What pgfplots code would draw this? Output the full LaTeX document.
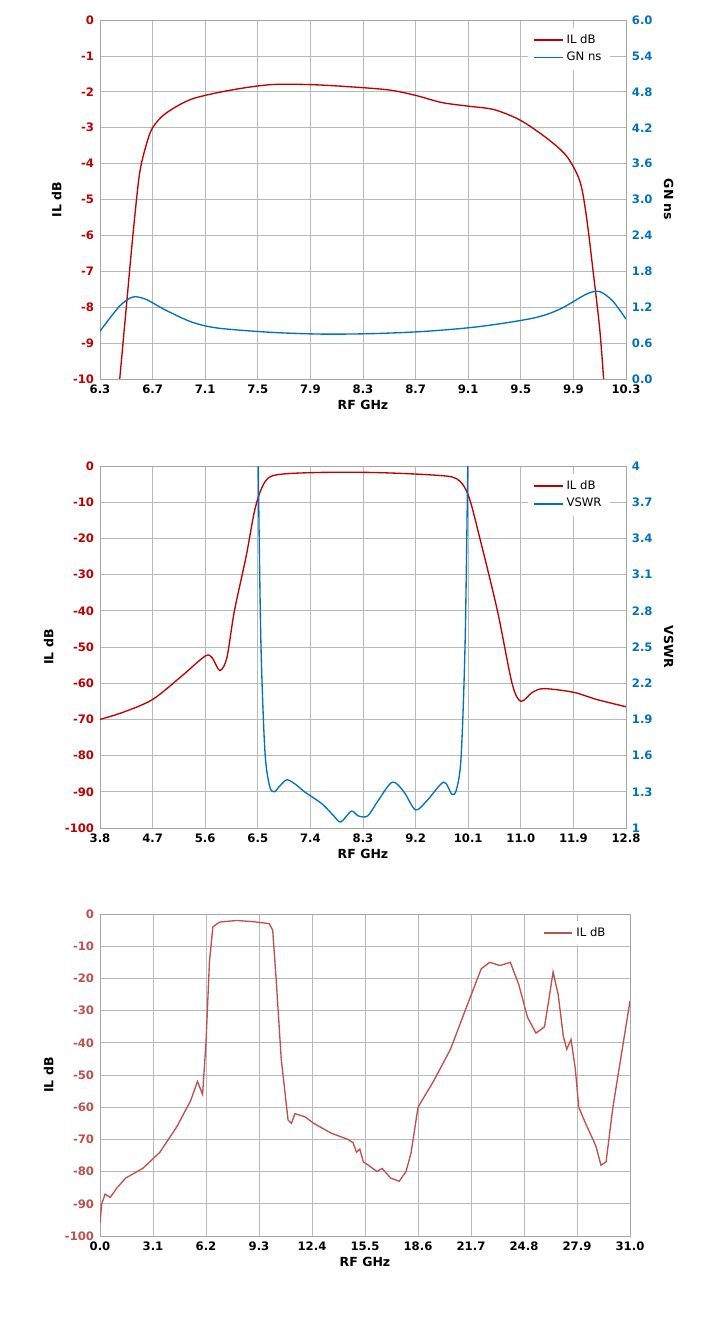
\documentclass[border=0pt]{standalone}
\usepackage{pgfplots}
\pgfplotsset{compat=1.18}
\usepackage{fontspec}
\setmainfont{DejaVu Sans}
\definecolor{ilred}{HTML}{C00000}
\definecolor{gnblue}{HTML}{0070C0}
\definecolor{il3}{HTML}{C0504D}
\begin{document}
\begin{tikzpicture}
\path (0pt,0pt) rectangle (430.8pt,-799.2pt);
\pgfplotsset{
 base/.style={scale only axis, width=315.6pt, height=215.4pt, anchor=north west,
   font=\fontsize{7}{8}\selectfont, /pgf/number format/assume math mode=true,
   grid=major, grid style={gray!55}, tick style={draw=none},
   axis line style={gray!70},
   xlabel style={font=\fontsize{7.5}{9}\selectfont\bfseries, yshift=3pt},
   ylabel style={font=\fontsize{7.5}{9}\selectfont\bfseries},
   xticklabel style={font=\fontsize{7}{8}\selectfont\bfseries},
   legend style={draw=none, fill=white, font=\fontsize{7}{8}\selectfont, at={(0.97,0.98)}, anchor=north east, cells={anchor=west}},
   legend cell align=left},
 right/.style={scale only axis, width=315.6pt, height=215.4pt, anchor=north west,
   font=\fontsize{7}{8}\selectfont\bfseries, /pgf/number format/assume math mode=true,
   axis y line*=right, axis x line=none, tick style={draw=none},
   yticklabel style={text=gnblue,font=\fontsize{7}{8}\selectfont\bfseries},
   ylabel style={font=\fontsize{7.5}{9}\selectfont\bfseries, rotate=180},
   axis line style={gray!70},
   legend style={draw=none, fill=white, font=\fontsize{7}{8}\selectfont, at={(0.97,0.98)}, anchor=north east, cells={anchor=west}},
   legend cell align=left}
}
% ---------- Chart 1
\begin{axis}[base, at={(60pt,-12pt)}, xmin=6.3, xmax=10.3, ymin=-10, ymax=0,
  xtick={6.3,6.7,...,10.4}, ytick={-10,-9,...,0}, xticklabel style={/pgf/number format/.cd,fixed,fixed zerofill,precision=1},
  yticklabel style={text=ilred,font=\fontsize{7}{8}\selectfont\bfseries},
  xlabel={RF GHz}, ylabel={IL dB}]
\addplot[ilred, thick, smooth] coordinates {(6.45,-10)(6.5,-8)(6.55,-6)(6.6,-4.3)(6.65,-3.5)(6.7,-3)(6.8,-2.6)(7.0,-2.2)(7.3,-1.95)(7.6,-1.8)(7.9,-1.8)(8.2,-1.86)(8.5,-1.95)(8.7,-2.1)(8.9,-2.3)(9.1,-2.4)(9.3,-2.5)(9.5,-2.8)(9.7,-3.3)(9.85,-3.8)(9.95,-4.5)(10.0,-5.5)(10.05,-7)(10.1,-8.6)(10.13,-10)};
\end{axis}
\begin{axis}[right, at={(60pt,-12pt)}, xmin=6.3, xmax=10.3, ymin=0, ymax=6, ytick={0,0.6,...,6.01},
  yticklabel style={/pgf/number format/.cd,fixed,fixed zerofill,precision=1}, ylabel={GN ns}]
\addlegendimage{ilred, thick}\addlegendentry{IL dB}
\addplot[gnblue, thick, smooth] coordinates {(6.3,0.8)(6.45,1.22)(6.55,1.37)(6.65,1.33)(6.8,1.15)(7.0,0.95)(7.2,0.85)(7.6,0.78)(8.0,0.75)(8.4,0.76)(8.8,0.8)(9.2,0.88)(9.6,1.02)(9.8,1.17)(10.0,1.42)(10.1,1.46)(10.2,1.3)(10.3,1.0)};
\addlegendentry{GN ns}
\end{axis}
% ---------- Chart 2
\begin{axis}[base, at={(60pt,-279.6pt)}, height=217.2pt, xmin=3.8, xmax=12.8, ymin=-100, ymax=0,
  xtick={3.8,4.7,...,12.9}, ytick={-100,-90,...,0}, xticklabel style={/pgf/number format/.cd,fixed,fixed zerofill,precision=1},
  yticklabel style={text=ilred,font=\fontsize{7}{8}\selectfont\bfseries},
  xlabel={RF GHz}, ylabel={IL dB}]
\addplot[ilred, thick, smooth] coordinates {(3.8,-70)(4.2,-68)(4.7,-64.5)(5.2,-58)(5.6,-52.5)(5.72,-53)(5.85,-56.5)(5.97,-53)(6.1,-40)(6.3,-25)(6.45,-12)(6.6,-5)(6.8,-2.5)(7.5,-1.8)(8.5,-1.8)(9.5,-2.5)(9.9,-3.5)(10.1,-8)(10.3,-20)(10.6,-40)(10.85,-60)(11.0,-65)(11.2,-62.5)(11.4,-61.5)(11.9,-62.5)(12.3,-64.5)(12.8,-66.5)};
\end{axis}
\begin{axis}[right, at={(60pt,-279.6pt)}, height=217.2pt, xmin=3.8, xmax=12.8, ymin=1, ymax=4, ytick={1,1.3,...,4.01},
  yticklabel style={/pgf/number format/.cd,fixed,precision=1}, ylabel={VSWR}, clip=true]
\addlegendimage{ilred, thick}\addlegendentry{IL dB}
\addplot[gnblue, thick, smooth] coordinates {(6.5,4.3)(6.55,2.6)(6.62,1.65)(6.7,1.35)(6.78,1.3)(6.88,1.35)(7.0,1.4)(7.15,1.36)(7.3,1.3)(7.6,1.2)(7.8,1.1)(7.92,1.05)(8.1,1.14)(8.22,1.1)(8.38,1.1)(8.55,1.22)(8.8,1.38)(9.0,1.3)(9.2,1.15)(9.4,1.23)(9.68,1.38)(9.82,1.28)(9.9,1.32)(9.98,1.6)(10.05,2.6)(10.1,4.3)};
\addlegendentry{VSWR}
\end{axis}
% ---------- Chart 3
\begin{axis}[base, at={(60pt,-548.4pt)}, width=318pt, height=193.2pt, xmin=0, xmax=31, ymin=-100, ymax=0,
  xtick={0,3.1,...,31.1}, ytick={-100,-90,...,0}, xticklabel style={/pgf/number format/.cd,fixed,fixed zerofill,precision=1},
  yticklabel style={text=il3,font=\fontsize{7}{8}\selectfont\bfseries},
  xlabel={RF GHz}, ylabel={IL dB}]
\addplot[il3, thick] coordinates {(0,-96)(0.1,-90)(0.3,-87)(0.6,-88)(1,-85)(1.5,-82)(2.5,-79)(3.5,-74)(4.5,-66)(5.3,-58)(5.7,-52)(6.0,-56)(6.2,-40)(6.4,-15)(6.6,-4)(7,-2.5)(8,-2)(9,-2.4)(9.9,-3)(10.1,-5)(10.3,-20)(10.6,-45)(11,-64)(11.2,-65)(11.4,-62)(12,-63)(12.5,-65)(13.5,-68)(14.5,-70)(14.8,-71)(15,-74)(15.2,-73)(15.4,-77)(15.7,-78)(16.2,-80)(16.5,-79)(17,-82)(17.5,-83)(17.9,-80)(18.2,-74)(18.6,-60)(19.5,-52)(20.5,-42)(21.5,-28)(22.3,-17)(22.8,-15)(23.4,-16)(24,-15)(24.5,-22)(25,-32)(25.5,-37)(26,-35)(26.3,-25)(26.5,-18)(26.8,-25)(27.1,-38)(27.3,-42)(27.55,-39)(27.8,-48)(28,-60)(28.4,-65)(29,-72)(29.3,-78)(29.6,-77)(30,-60)(31,-27)};
\addlegendentry{IL dB}
\end{axis}
\end{tikzpicture}
\end{document}
